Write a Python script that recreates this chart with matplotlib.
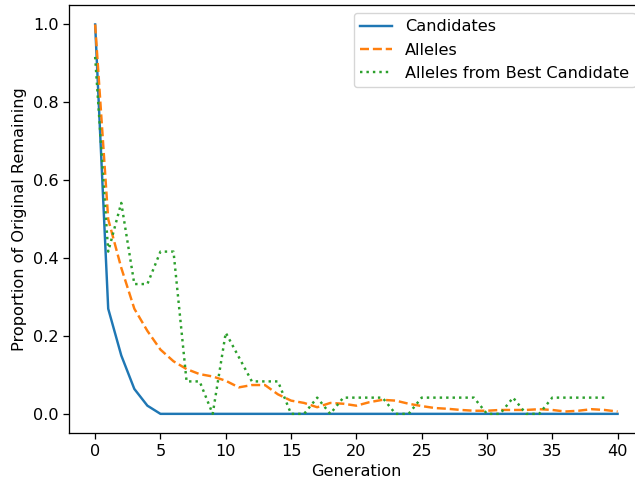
import matplotlib
matplotlib.use("Agg")
import matplotlib.pyplot as plt

# Data
generations = list(range(41))

candidates = [1.0, 0.27, 0.15, 0.064, 0.021] + [0.0] * 36

alleles = [
    1.0, 0.50, 0.375, 0.27, 0.213, 0.165, 0.135, 0.115, 0.102, 0.096,
    0.085, 0.068, 0.074, 0.074, 0.05, 0.034, 0.028, 0.017, 0.028, 0.026,
    0.021, 0.03, 0.036, 0.034, 0.026, 0.02, 0.015, 0.013, 0.01, 0.008,
    0.008, 0.01, 0.01, 0.01, 0.012, 0.01, 0.006, 0.008, 0.012, 0.01,
    0.006,
]

best_gens = list(range(40))
best_alleles = [
    22/24, 10/24, 13/24, 8/24, 8/24, 10/24, 10/24, 2/24, 2/24, 0,
    5/24, 3.5/24, 2/24, 2/24, 2/24, 0, 0, 1/24, 0, 1/24,
    1/24, 1/24, 1/24, 0, 0, 1/24, 1/24, 1/24, 1/24, 1/24,
    0, 0, 1/24, 0, 0, 1/24, 1/24, 1/24, 1/24, 1/24,
]

plt.rcParams['font.size'] = 11.6
plt.rcParams['axes.linewidth'] = 0.93
plt.rcParams['xtick.major.width'] = 0.93
plt.rcParams['ytick.major.width'] = 0.93
plt.rcParams['xtick.major.size'] = 4
plt.rcParams['ytick.major.size'] = 4

fig = plt.figure(figsize=(6.35, 4.84), dpi=100)
ax = fig.add_axes([0.1087, 0.1047, 0.905, 0.885])

ax.plot(generations, candidates, label="Candidates", linewidth=1.75)
ax.plot(generations, alleles, '--', label="Alleles", linewidth=1.75)
ax.plot(best_gens, best_alleles, ':', label="Alleles from Best Candidate", linewidth=1.75)

ax.set_xlabel("Generation")
ax.set_ylabel("Proportion of Original Remaining")
ax.legend(loc="upper right")

fig.savefig("out.png", dpi=100)
